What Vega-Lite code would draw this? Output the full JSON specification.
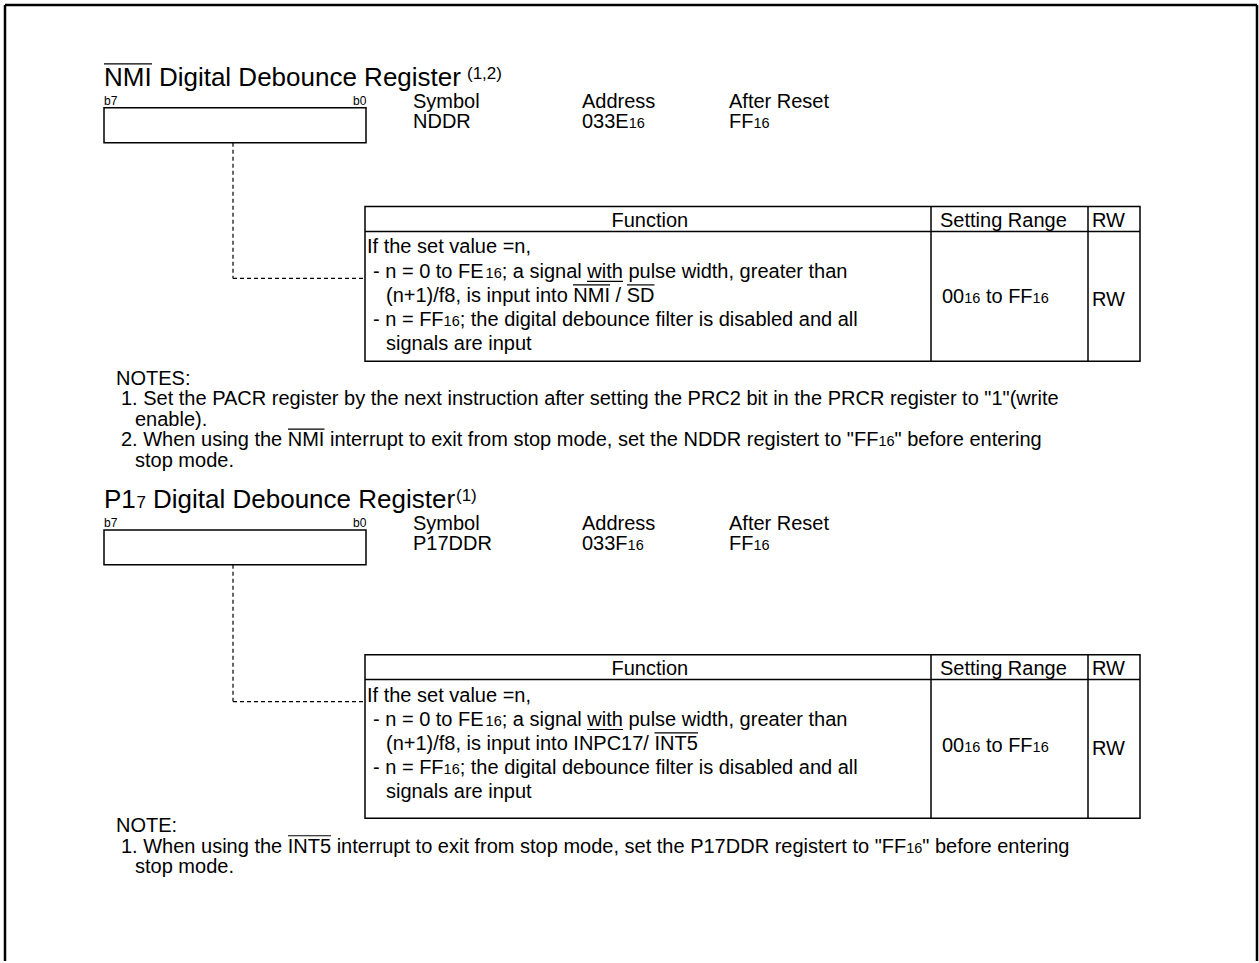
{
 "$schema": "https://vega.github.io/schema/vega-lite/v6.json",
 "width": 1259, "height": 963, "padding": 0,
 "autosize": {"type": "fit", "contains": "padding"},
 "background": "white",
 "config": {"view": {"stroke": null}},
 "datasets": {
  "frame": [
   {"x": 5, "y": 5, "x2": 1257, "y2": 5},
   {"x": 5, "y": 5, "x2": 5, "y2": 963},
   {"x": 1257, "y": 5, "x2": 1257, "y2": 963}
  ],
  "boxes": [
   {"x": 104, "y": 108, "x2": 366, "y2": 143},
   {"x": 104, "y": 531, "x2": 366, "y2": 566},
   {"x": 365, "y": 207, "x2": 1140, "y2": 362},
   {"x": 365, "y": 656, "x2": 1140, "y2": 820}
  ],
  "lines": [
   {"x": 365, "y": 232, "x2": 1140, "y2": 232},
   {"x": 931, "y": 207, "x2": 931, "y2": 362},
   {"x": 1088, "y": 207, "x2": 1088, "y2": 362},
   {"x": 365, "y": 681, "x2": 1140, "y2": 681},
   {"x": 931, "y": 656, "x2": 931, "y2": 820},
   {"x": 1088, "y": 656, "x2": 1088, "y2": 820}
  ],
  "dashes": [
   {"x": 233, "y": 143, "x2": 233, "y2": 279},
   {"x": 233, "y": 279, "x2": 365, "y2": 279},
   {"x": 233, "y": 566, "x2": 233, "y2": 703},
   {"x": 233, "y": 703, "x2": 365, "y2": 703}
  ],
  "overs": [
   {"x": 104, "y": 64, "x2": 152, "y2": 64},
   {"x": 573, "y": 285.5, "x2": 610, "y2": 285.5},
   {"x": 627, "y": 285.5, "x2": 654.5, "y2": 285.5},
   {"x": 587, "y": 282, "x2": 623, "y2": 282},
   {"x": 288, "y": 430, "x2": 324.5, "y2": 430},
   {"x": 654.5, "y": 734.5, "x2": 698, "y2": 734.5},
   {"x": 587, "y": 731, "x2": 623, "y2": 731},
   {"x": 288, "y": 837.5, "x2": 331, "y2": 837.5}
  ],
  "texts": [
   {"x": 104, "y": 86, "t": "NMI Digital Debounce Register", "k": "title"},
   {"x": 467, "y": 79, "t": "(1,2)", "k": "sup"},
   {"x": 104, "y": 105, "t": "b7", "k": "bit"},
   {"x": 353, "y": 105, "t": "b0", "k": "bit"},
   {"x": 413, "y": 108, "t": "Symbol", "k": "body"},
   {"x": 413, "y": 128, "t": "NDDR", "k": "body"},
   {"x": 582, "y": 108, "t": "Address", "k": "body"},
   {"x": 582, "y": 128, "t": "033E", "k": "body"},
   {"x": 628.7, "y": 128, "t": "16", "k": "sub"},
   {"x": 729, "y": 108, "t": "After Reset", "k": "body"},
   {"x": 729, "y": 128, "t": "FF", "k": "body"},
   {"x": 753.4, "y": 128, "t": "16", "k": "sub"},
   {"x": 611.5, "y": 227, "t": "Function", "k": "body"},
   {"x": 940, "y": 227, "t": "Setting Range", "k": "body"},
   {"x": 1092, "y": 227, "t": "RW", "k": "body"},
   {"x": 367, "y": 254, "t": "If the set value =n,", "k": "body"},
   {"x": 373, "y": 278.5, "t": "- n = 0 to FE", "k": "body"},
   {"x": 485.6, "y": 278.5, "t": "16", "k": "sub"},
   {"x": 501.7, "y": 278.5, "t": "; a signal with pulse width, greater than", "k": "body"},
   {"x": 386, "y": 303, "t": "(n+1)/f8, is input into NMI / SD", "k": "body"},
   {"x": 373, "y": 327, "t": "- n = FF", "k": "body"},
   {"x": 443.6, "y": 327, "t": "16", "k": "sub"},
   {"x": 459.7, "y": 327, "t": "; the digital debounce filter is disabled and all", "k": "body"},
   {"x": 386, "y": 351, "t": "signals are input", "k": "body"},
   {"x": 942, "y": 304, "t": "00", "k": "body"},
   {"x": 964.2, "y": 304, "t": "16", "k": "sub"},
   {"x": 985.9, "y": 304, "t": "to FF", "k": "body"},
   {"x": 1032.6, "y": 304, "t": "16", "k": "sub"},
   {"x": 1092, "y": 307, "t": "RW", "k": "body"},
   {"x": 116, "y": 385.5, "t": "NOTES:", "k": "body"},
   {"x": 121, "y": 406, "t": "1. Set the PACR register by the next instruction after setting the PRC2 bit in the PRCR register to \"1\"(write", "k": "body"},
   {"x": 135, "y": 426.5, "t": "enable).", "k": "body"},
   {"x": 121, "y": 447, "t": "2. When using the NMI interrupt to exit from stop mode, set the NDDR registert to \"FF", "k": "body"},
   {"x": 878.4, "y": 447, "t": "16", "k": "sub"},
   {"x": 894.5, "y": 447, "t": "\" before entering", "k": "body"},
   {"x": 135, "y": 467.5, "t": "stop mode.", "k": "body"},
   {"x": 104, "y": 509, "t": "P1", "k": "title"},
   {"x": 136.5, "y": 509, "t": "7", "k": "sup"},
   {"x": 153, "y": 509, "t": "Digital Debounce Register", "k": "title"},
   {"x": 456, "y": 502, "t": "(1)", "k": "sup"},
   {"x": 104, "y": 528, "t": "b7", "k": "bit"},
   {"x": 353, "y": 528, "t": "b0", "k": "bit"},
   {"x": 413, "y": 531, "t": "Symbol", "k": "body"},
   {"x": 413, "y": 551, "t": "P17DDR", "k": "body"},
   {"x": 582, "y": 531, "t": "Address", "k": "body"},
   {"x": 582, "y": 551, "t": "033F", "k": "body"},
   {"x": 627.6, "y": 551, "t": "16", "k": "sub"},
   {"x": 729, "y": 531, "t": "After Reset", "k": "body"},
   {"x": 729, "y": 551, "t": "FF", "k": "body"},
   {"x": 753.4, "y": 551, "t": "16", "k": "sub"},
   {"x": 611.5, "y": 676, "t": "Function", "k": "body"},
   {"x": 940, "y": 676, "t": "Setting Range", "k": "body"},
   {"x": 1092, "y": 676, "t": "RW", "k": "body"},
   {"x": 367, "y": 703, "t": "If the set value =n,", "k": "body"},
   {"x": 373, "y": 727.5, "t": "- n = 0 to FE", "k": "body"},
   {"x": 485.6, "y": 727.5, "t": "16", "k": "sub"},
   {"x": 501.7, "y": 727.5, "t": "; a signal with pulse width, greater than", "k": "body"},
   {"x": 386, "y": 752, "t": "(n+1)/f8, is input into INPC17/ INT5", "k": "body"},
   {"x": 373, "y": 776, "t": "- n = FF", "k": "body"},
   {"x": 443.6, "y": 776, "t": "16", "k": "sub"},
   {"x": 459.7, "y": 776, "t": "; the digital debounce filter is disabled and all", "k": "body"},
   {"x": 386, "y": 800, "t": "signals are input", "k": "body"},
   {"x": 942, "y": 754, "t": "00", "k": "body"},
   {"x": 964.2, "y": 754, "t": "16", "k": "sub"},
   {"x": 985.9, "y": 754, "t": "to FF", "k": "body"},
   {"x": 1032.6, "y": 754, "t": "16", "k": "sub"},
   {"x": 1092, "y": 757, "t": "RW", "k": "body"},
   {"x": 116, "y": 834, "t": "NOTE:", "k": "body"},
   {"x": 121, "y": 855, "t": "1. When using the INT5 interrupt to exit from stop mode, set the P17DDR registert to \"FF", "k": "body"},
   {"x": 906.2, "y": 855, "t": "16", "k": "sub"},
   {"x": 922.3, "y": 855, "t": "\" before entering", "k": "body"},
   {"x": 135, "y": 875, "t": "stop mode.", "k": "body"}
  ]
 },
 "encoding": {
  "x": {"field": "x", "type": "quantitative", "scale": {"domain": [0, 1259], "nice": false, "zero": false}, "axis": null},
  "y": {"field": "y", "type": "quantitative", "scale": {"domain": [0, 963], "nice": false, "zero": false, "reverse": true}, "axis": null}
 },
 "layer": [
  {"data": {"name": "boxes"}, "mark": {"type": "rect", "fill": "white", "fillOpacity": 0, "stroke": "black", "strokeWidth": 1.5},
   "encoding": {"x2": {"field": "x2"}, "y2": {"field": "y2"}}},
  {"data": {"name": "frame"}, "mark": {"type": "rule", "color": "black", "strokeWidth": 2.5},
   "encoding": {"x2": {"field": "x2"}, "y2": {"field": "y2"}}},
  {"data": {"name": "lines"}, "mark": {"type": "rule", "color": "black", "strokeWidth": 1.5},
   "encoding": {"x2": {"field": "x2"}, "y2": {"field": "y2"}}},
  {"data": {"name": "dashes"}, "mark": {"type": "rule", "color": "black", "strokeWidth": 1.2, "strokeDash": [4, 3]},
   "encoding": {"x2": {"field": "x2"}, "y2": {"field": "y2"}}},
  {"data": {"name": "overs"}, "mark": {"type": "rule", "color": "black", "strokeWidth": 1.2},
   "encoding": {"x2": {"field": "x2"}, "y2": {"field": "y2"}}},
  {"data": {"name": "texts"}, "transform": [{"filter": "datum.k === 'body'"}],
   "mark": {"type": "text", "align": "left", "baseline": "alphabetic", "color": "black", "font": "Liberation Sans", "fontSize": 20},
   "encoding": {"text": {"field": "t", "type": "nominal"}}},
  {"data": {"name": "texts"}, "transform": [{"filter": "datum.k === 'sub'"}],
   "mark": {"type": "text", "align": "left", "baseline": "alphabetic", "color": "black", "font": "Liberation Sans", "fontSize": 14.5},
   "encoding": {"text": {"field": "t", "type": "nominal"}}},
  {"data": {"name": "texts"}, "transform": [{"filter": "datum.k === 'title'"}],
   "mark": {"type": "text", "align": "left", "baseline": "alphabetic", "color": "black", "font": "Liberation Sans", "fontSize": 26},
   "encoding": {"text": {"field": "t", "type": "nominal"}}},
  {"data": {"name": "texts"}, "transform": [{"filter": "datum.k === 'sup'"}],
   "mark": {"type": "text", "align": "left", "baseline": "alphabetic", "color": "black", "font": "Liberation Sans", "fontSize": 17},
   "encoding": {"text": {"field": "t", "type": "nominal"}}},
  {"data": {"name": "texts"}, "transform": [{"filter": "datum.k === 'bit'"}],
   "mark": {"type": "text", "align": "left", "baseline": "alphabetic", "color": "black", "font": "Liberation Sans", "fontSize": 12},
   "encoding": {"text": {"field": "t", "type": "nominal"}}}
 ]
}
